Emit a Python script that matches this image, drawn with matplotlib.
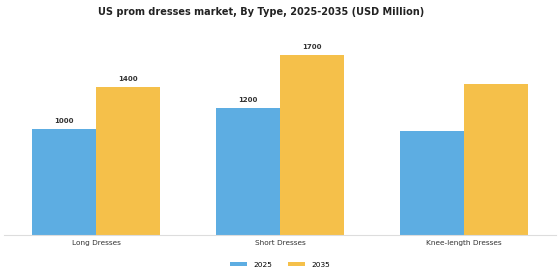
import numpy as np
import matplotlib.pyplot as plt

categories = ['Long Dresses', 'Short Dresses', 'Knee-length Dresses']
values_2025 = [1000, 1200, 980]
values_2035 = [1400, 1700, 1430]
labels_2025 = ['1000', '1200', '']
labels_2035 = ['1400', '1700', '']

fig = plt.figure(figsize=(5.6, 2.8), dpi=100)
ax = fig.add_axes([0.007, 0.161, 0.986, 0.707])

x = np.arange(len(categories))
w = 0.35
b1 = ax.bar(x - w / 2, values_2025, w, color='#5DADE2', label='2025')
b2 = ax.bar(x + w / 2, values_2035, w, color='#F5C04A', label='2035')

for bars, labs in ((b1, labels_2025), (b2, labels_2035)):
    for bar, lab in zip(bars, labs):
        if lab:
            ax.text(bar.get_x() + bar.get_width() / 2, bar.get_height() + 45, lab,
                    ha='center', va='bottom', fontsize=5, fontweight='bold', color='#333333')

ax.set_xlim(-0.5, 2.5)
ax.set_ylim(0, 1870)
ax.set_xticks(x)
ax.set_xticklabels(categories, fontsize=5.3, color='#333333')
ax.tick_params(axis='x', length=0, pad=3.5)
ax.set_yticks([])
for s in ['top', 'right', 'left']:
    ax.spines[s].set_visible(False)
ax.spines['bottom'].set_color('#dddddd')

fig.suptitle('US prom dresses market, By Type, 2025-2035 (USD Million)',
             fontsize=7, fontweight='bold', x=0.467, y=0.975, color='#222222')
fig.legend(loc='center', ncol=2, frameon=False, fontsize=5.3,
           bbox_to_anchor=(0.5, 0.055), handlelength=2.3, handleheight=0.6,
           columnspacing=2.2)

fig.savefig('out.png', dpi=100)
